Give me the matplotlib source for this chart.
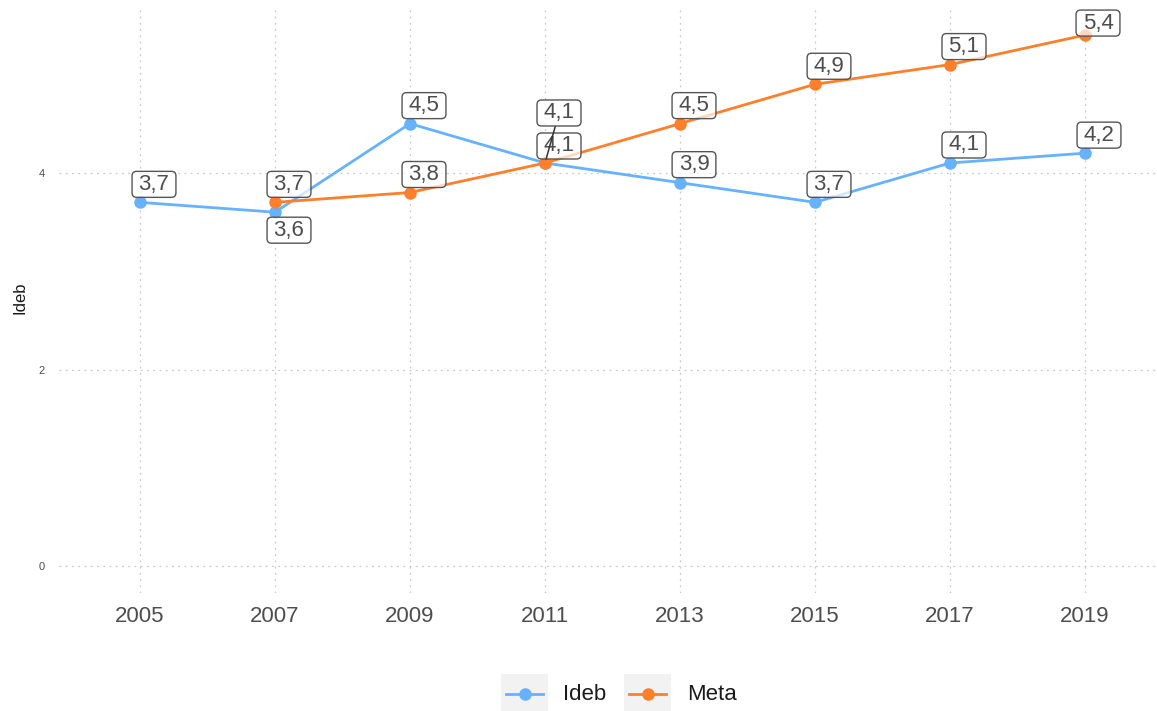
import matplotlib
matplotlib.use("Agg")
import matplotlib.pyplot as plt
from matplotlib.patches import BoxStyle, Rectangle
from matplotlib.lines import Line2D

# ---- data -------------------------------------------------------------
years = ["2005", "2007", "2009", "2011", "2013", "2015", "2017", "2019"]
ideb = [3.7, 3.6, 4.5, 4.1, 3.9, 3.7, 4.1, 4.2]
meta = [None, 3.7, 3.8, 4.1, 4.5, 4.9, 5.1, 5.4]
series_names = ["Ideb", "Meta"]
y_ticks = [0, 2, 4]

# ---- style ------------------------------------------------------------
colors = {"Ideb": "#66B2FF", "Meta": "#FF7F2A"}
TEXT = "#4d4d4d"
GRID = "#c9c9c9"
W, H, DPI = 1157, 711, 100
plt.rcParams["font.family"] = ["Liberation Sans", "DejaVu Sans"]
LW, MS = 2.0, 8

# label offsets in pixels (dx, dy) relative to each point
ideb_offsets = [(14, 18), (14, -18), (14, 18), (14, 50), (14, 18), (14, 18), (14, 18), (14, 18)]
meta_offsets = [None, (14, 18), (14, 18), (14, 17), (14, 18), (14, 18), (14, 18), (13, 12)]

fig = plt.figure(figsize=(W / DPI, H / DPI), dpi=DPI)
left, right, bottom, top = 59, 1166, 593, 8.5
ax = fig.add_axes([left / W, 1 - bottom / H, (right - left) / W, (bottom - top) / H])

xpos = list(range(1, len(years) + 1))
ax.set_xlim(0.4, 8.6)
ax.set_ylim(-0.27, 5.67)

for s in ax.spines.values():
    s.set_visible(False)
ax.set_xticks(xpos)
ax.set_xticklabels(years)
ax.set_yticks(y_ticks)
ax.tick_params(axis="x", length=0, pad=9, labelsize=16, labelcolor=TEXT)
ax.tick_params(axis="y", length=0, pad=10, labelsize=8, labelcolor=TEXT)
ax.grid(True, color=GRID, linestyle=(0, (1.5, 3.5)), linewidth=0.9)
ax.set_axisbelow(True)

# series lines
mx = [x for x, v in zip(xpos, meta) if v is not None]
mv = [v for v in meta if v is not None]
ax.plot(xpos, ideb, color=colors["Ideb"], lw=LW, marker="o", ms=MS, zorder=3,
        solid_capstyle="round")
ax.plot(mx, mv, color=colors["Meta"], lw=LW, marker="o", ms=MS, zorder=3,
        solid_capstyle="round")


def label_box(x0, y0, width, height, mutation_size):
    px = 6.5 * DPI / 100
    py = 2.5 * DPI / 100
    radius = 4.5 * DPI / 100
    return BoxStyle.Round(pad=0, rounding_size=radius / mutation_size)(
        x0 - px, y0 - py, width + 2 * px, height + 2 * py, mutation_size)


def fmt(v):
    return f"{v:.1f}".replace(".", ",")


def add_label(x, v, off, segment=False):
    kw = {}
    if segment:
        kw["arrowprops"] = dict(arrowstyle="-", color="#333333", lw=1.1,
                                shrinkA=0, shrinkB=3)
    ax.annotate(fmt(v), xy=(x, v), xytext=off, textcoords="offset pixels",
                ha="center", va="center", fontsize=16, color=TEXT, zorder=5,
                bbox=dict(boxstyle=label_box, fc=(1, 1, 1, 0.7), ec="#555555", lw=1.0),
                **kw)


for x, v, off in zip(xpos, meta, meta_offsets):
    if v is not None:
        add_label(x, v, off)
for x, v, off in zip(xpos, ideb, ideb_offsets):
    add_label(x, v, off, segment=(off[1] > 30))

fig.text(20 / W, 1 - 298 / H, "Ideb", rotation=90, ha="center", va="center",
         fontsize=12, color="#1a1a1a")

# legend at the bottom, with shaded key backgrounds
key_w, key_h = 47, 40
key_lefts = [501, 624]
text_lefts = [563, 687]
ky = 694
for name, kx, tx in zip(series_names, key_lefts, text_lefts):
    fig.add_artist(Rectangle((kx / W, 1 - (ky + key_h / 2) / H), key_w / W, key_h / H,
                             transform=fig.transFigure, fc="#f2f2f2", ec="none"))
    fig.add_artist(Line2D([(kx + 5) / W, (kx + key_w - 5) / W], [1 - ky / H, 1 - ky / H],
                          transform=fig.transFigure, color=colors[name], lw=LW))
    fig.add_artist(Line2D([(kx + key_w / 2) / W], [1 - ky / H], transform=fig.transFigure,
                          color=colors[name], marker="o", ms=MS, lw=0))
    fig.text(tx / W, 1 - ky / H, name, ha="left", va="center", fontsize=16, color="#1a1a1a")

fig.savefig("out.png", dpi=DPI)
